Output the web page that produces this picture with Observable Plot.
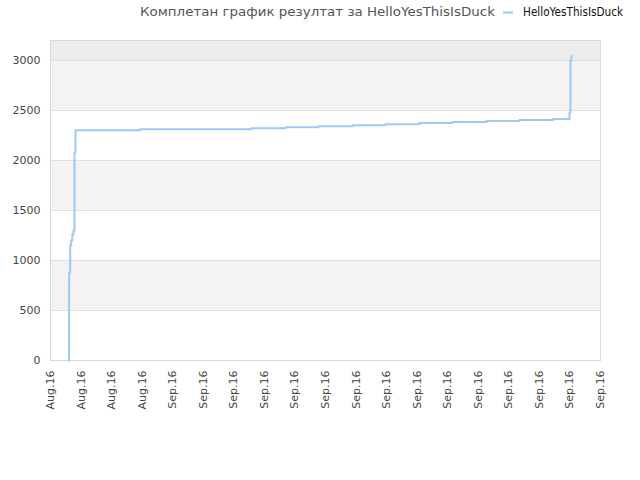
<!DOCTYPE html>
<html>
<head>
<meta charset="utf-8">
<script src="https://cdn.jsdelivr.net/npm/d3@7"></script>
<script src="https://cdn.jsdelivr.net/npm/@observablehq/plot@0.6"></script>
<style>
  body { margin: 0; background: white; }
  #wrap { position: relative; width: 640px; height: 480px; }
  #overlay { position: absolute; left: 0; top: 0; pointer-events: none; }
</style>
</head>
<body>
<div id="wrap"></div>
<script>
const titleText = "Комплетан график резултат за HelloYesThisIsDuck";
const seriesName = "HelloYesThisIsDuck";
const xLabels = ["Aug.16","Aug.16","Aug.16","Aug.16",
  "Sep.16","Sep.16","Sep.16","Sep.16","Sep.16","Sep.16","Sep.16","Sep.16",
  "Sep.16","Sep.16","Sep.16","Sep.16","Sep.16","Sep.16","Sep.16"];
const yTicks = [0, 500, 1000, 1500, 2000, 2500, 3000];
const yMax = 3200;
// step positions in tick units, and score from that point on
const stepX = [0.605, 0.609, 0.645, 0.677, 0.713, 0.753, 0.785, 0.818, 2.945, 6.578, 7.691, 8.771, 9.883, 10.963, 12.076, 13.156, 14.269, 15.349, 16.452, 16.985, 17.018, 17.051];
const scores = [0, 880, 1155, 1200, 1260, 1300, 2080, 2303, 2313, 2323, 2333, 2343, 2353, 2363, 2375, 2385, 2395, 2405, 2415, 2480, 3000, 3050];

const points = stepX.map((x, i) => ({x, y: scores[i]}));
const bands = yTicks.slice(0, -1).map((lo, i) => ({lo, hi: yTicks[i + 1], odd: i % 2 === 1}));
const greyBands = bands.filter(b => b.odd);
const topBand = [{lo: yTicks[yTicks.length - 1], hi: yMax}];

const lineColor = "#9ccaf5";

const chart = Plot.plot({
  width: 640,
  height: 480,
  marginLeft: 50,
  marginRight: 40,
  marginTop: 40,
  marginBottom: 120,
  style: {fontFamily: "DejaVu Sans", fontSize: "11px", color: "#444", background: "white"},
  x: {domain: [0, xLabels.length - 1], ticks: d3.range(xLabels.length), tickFormat: i => xLabels[i], tickRotate: -90, tickSize: 0, tickPadding: 10, label: null},
  y: {domain: [0, yMax], ticks: yTicks, tickFormat: d => String(d), tickSize: 0, tickPadding: 10, label: null},
  marks: [
    Plot.rect(greyBands, {y1: "lo", y2: "hi", fill: "#f3f3f3"}),
    Plot.rect(topBand, {y1: "lo", y2: "hi", fill: "#ededed"}),
    Plot.ruleY(yTicks.slice(1), {stroke: "#e0e0e0"}),
    Plot.frame({stroke: "#d9d9d9"}),
    Plot.line(points, {x: "x", y: "y", curve: "step-after", stroke: lineColor, strokeWidth: 2})
  ]
});
document.getElementById("wrap").appendChild(chart);

const ns = "http://www.w3.org/2000/svg";
const ov = document.createElementNS(ns, "svg");
ov.setAttribute("id", "overlay");
ov.setAttribute("width", 640);
ov.setAttribute("height", 30);
ov.innerHTML = `
  <text x="140" y="16" font-family="DejaVu Sans" font-size="13" fill="#555" textLength="355" lengthAdjust="spacingAndGlyphs">${titleText}</text>
  <line x1="503" x2="513" y1="12.5" y2="12.5" stroke="${lineColor}" stroke-width="2"></line>
  <text x="523" y="16" font-family="DejaVu Sans" font-size="11.5" fill="#111" textLength="100" lengthAdjust="spacingAndGlyphs">${seriesName}</text>
`;
document.getElementById("wrap").appendChild(ov);
</script>
</body>
</html>
